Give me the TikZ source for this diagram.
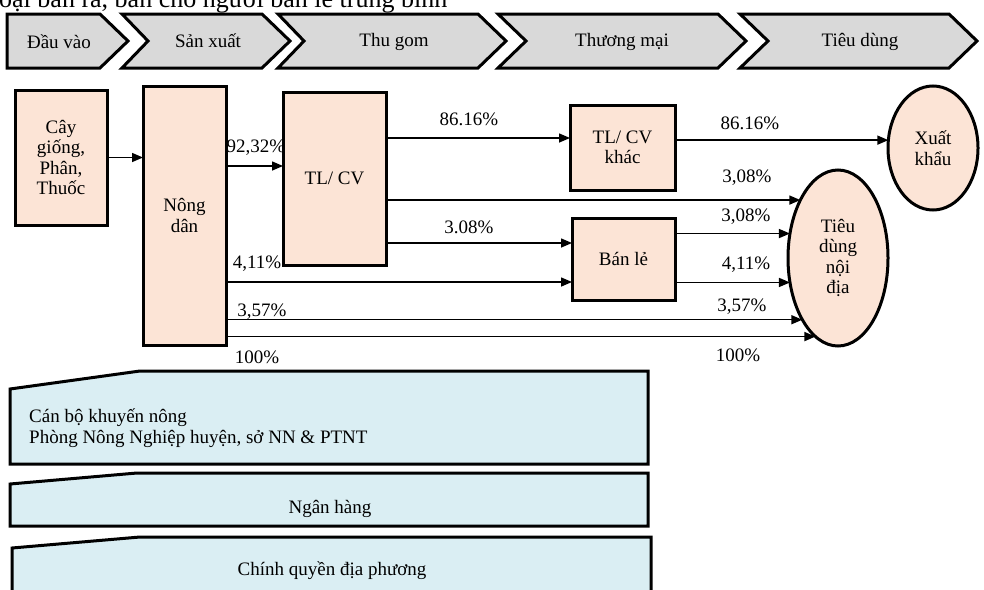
\documentclass[tikz,border=0pt]{standalone}
\usepackage{fontspec}
\setmainfont{Liberation Serif}
\usetikzlibrary{arrows.meta,shapes.geometric}
\definecolor{chevgray}{HTML}{D9D9D9}
\definecolor{peach}{HTML}{FCE4D6}
\definecolor{paleblue}{HTML}{DAEEF3}

\begin{document}
\begin{tikzpicture}[x=1pt,y=-1pt,
        every node/.style={font=\fontsize{19}{20.5}\selectfont, inner sep=0pt},
        chev/.style={draw, line width=3pt, fill=chevgray},
        box/.style={draw, line width=3pt, fill=peach, align=center, outer sep=0pt},
        oval/.style={ellipse, draw, line width=3pt, fill=peach, align=center, outer sep=0pt},
        band/.style={draw, line width=3pt, fill=paleblue},
        arr/.style={line width=1.5pt, -{Triangle[length=11pt,width=9pt]}}]
        \useasboundingbox (0,0) rectangle (984,589);
        \clip (0,0) rectangle (984,589);
        \node[anchor=base west, font=\fontsize{26}{30}\selectfont] (head) at (-1,7.5) {oại bán ra, bán cho người bán lẻ trung bình};

        \draw[chev] (7,14) -- (100,14) -- (128,41) -- (100,68) -- (7,68) -- cycle;
        \draw[chev] (122,14) -- (262,14) -- (290,41) -- (262,68) -- (122,68) -- (148,41) -- cycle;
        \draw[chev] (278,14) -- (478,14) -- (506,41) -- (478,68) -- (278,68) -- (304,41) -- cycle;
        \draw[chev] (498,14) -- (718,14) -- (746,41) -- (718,68) -- (498,68) -- (526,41) -- cycle;
        \draw[chev] (740,14) -- (949,14) -- (977,41) -- (949,68) -- (740,68) -- (768,41) -- cycle;
        \node (dauvao) at (59,42) {Đầu vào};
        \node (sanxuat) at (208,41) {Sản xuất};
        \node (thugom) at (394,42) {Thu gom};
        \node (thuongmai) at (622,42) {Thương mại};
        \node (tieudung) at (860,42) {Tiêu dùng};

        \node[box, minimum width=92, minimum height=135] (cay) at (61,157.5) {Cây\\giống,\\Phân,\\Thuốc};
        \node[box, minimum width=83, minimum height=259] (nd) at (184.5,215.5) {Nông\\dân};
        \node[box, minimum width=103, minimum height=173] (tl) at (334.5,178.5) {TL/ CV};
        \node[box, minimum width=105, minimum height=85] (tlk) at (622.5,147.5) {TL/ CV\\khác};
        \node[box, minimum width=103, minimum height=82] (bl) at (623.5,259) {Bán lẻ};
        \node[oval, minimum width=90, minimum height=124] (xk) at (933,148) {Xuất\\khẩu};
        \node[oval, minimum width=100, minimum height=176] (tdnd) at (838,258) {Tiêu\\dùng\\nội\\địa};

        \draw[arr] (cay.east) -- (cay.east -| nd.west);
        \draw[arr] (nd.east |- 0,166) -- (tl.west |- 0,166);
        \draw[arr] (tl.east |- 0,138) -- (tlk.west |- 0,138);
        \draw[arr] (tlk.east |- xk.170) -- (xk.170);
        \draw[arr] (tl.east |- tdnd.123) -- (tdnd.123);
        \draw[arr] (tl.east |- 0,243) -- (bl.west |- 0,243);
        \draw[arr] (nd.east |- 0,282) -- (bl.west |- 0,282);
        \draw[arr] (bl.east |- tdnd.153) -- (tdnd.153);
        \draw[arr] (bl.east |- tdnd.207) -- (tdnd.207);
        \draw[arr] (nd.east |- tdnd.240) -- (tdnd.240);
        \draw[arr] (nd.east |- tdnd.254) -- (tdnd.254);

        \node (p9232) at (256,148) {92,32\%};
        \node (p8616a) at (469,119) {86.16\%};
        \node (p8616b) at (750,123) {86.16\%};
        \node (p308a) at (747,178) {3,08\%};
        \node (p308b) at (469,227) {3.08\%};
        \node (p308c) at (746,217) {3,08\%};
        \node (p411a) at (257,264) {4,11\%};
        \node (p411b) at (746,265) {4,11\%};
        \node (p357a) at (262,312) {3,57\%};
        \node (p357b) at (742,307) {3,57\%};
        \node (p100a) at (257,357) {100\%};
        \node (p100b) at (738,355) {100\%};

        \draw[band] (10,389) -- (140,371) -- (648,371) -- (648,464) -- (10,464) -- cycle;
        \node[anchor=west, align=left] (khuyennong) at (29,428) {Cán bộ khuyến nông\\Phòng Nông Nghiệp huyện, sở NN \& PTNT};
        \draw[band] (10,484) -- (137,473) -- (648,473) -- (648,526) -- (10,526) -- cycle;
        \node[anchor=base] (nganhang) at (330,513) {Ngân hàng};
        \draw[band] (12,548) -- (140,537) -- (651,537) -- (651,600) -- (12,600) -- cycle;
        \node[anchor=base] (chinhquyen) at (332,575) {Chính quyền địa phương};
\end{tikzpicture}
\end{document}
